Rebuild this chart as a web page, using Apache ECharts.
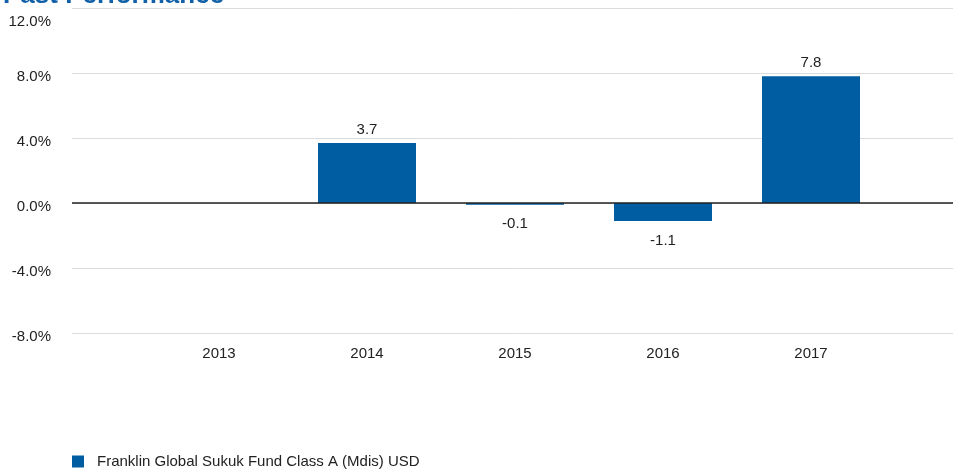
<!DOCTYPE html>
<html><head><meta charset="utf-8">
<script src="https://cdn.jsdelivr.net/npm/echarts@6/dist/echarts.min.js"></script>
<style>html,body{margin:0;padding:0;background:#fff}#c{width:953px;height:469px}</style>
</head><body><div id="c"></div>
<script>
const categories = ['2013', '2014', '2015', '2016', '2017'];
const fundValues = [null, 3.7, -0.1, -1.1, 7.8];
const seriesName = 'Franklin Global Sukuk Fund Class A (Mdis) USD';
const titleText = 'Past Performance';

const chart = echarts.init(document.getElementById('c'));
const font = '"Liberation Sans", Arial, sans-serif';
const barColor = '#005DA2';
const txt = '#222';
const fs = 15;
chart.setOption({
  animation: false,
  title: { text: titleText, left: -2, top: -22, textStyle: { color: '#1260A8', fontSize: 26, fontWeight: 'bold', fontFamily: font } },
  legend: {
    left: 72, bottom: 0, padding: 0, itemWidth: 12, itemHeight: 12, icon: 'rect', itemGap: 10,
    textStyle: { color: txt, fontSize: fs, fontFamily: font, padding: [0, 0, 0, 8] },
    data: [seriesName]
  },
  grid: [
    { left: 72, right: 0, top: 8, bottom: 136 },
    { left: 145, right: 68, top: 8, bottom: 136 }
  ],
  xAxis: [
    { gridIndex: 0, type: 'value', min: 0, max: 1, show: true, axisLabel: { show: false }, axisTick: { show: false }, splitLine: { show: false }, axisLine: { show: false } },
    { gridIndex: 1, type: 'category', data: categories, axisLine: { show: false }, axisTick: { show: false },
      axisLabel: { color: txt, fontSize: fs, fontFamily: font, margin: 13 } }
  ],
  yAxis: [
    { gridIndex: 0, type: 'value', min: -8, max: 12, interval: 4,
      axisLabel: {
        formatter: v => v === 12 ? '{top|' + v.toFixed(1) + '%}' : '{n|' + v.toFixed(1) + '%}',
        color: txt, fontSize: fs, fontFamily: font, margin: 21,
        rich: { top: { fontSize: fs, fontFamily: font, color: txt, padding: [28, 0, 0, 0] }, n: { fontSize: fs, fontFamily: font, color: txt, padding: [8, 0, 0, 0] } }
      },
      axisLine: { show: false }, axisTick: { show: false },
      splitLine: { lineStyle: { color: '#DCDCDC', width: 1 } } },
    { gridIndex: 1, type: 'value', min: -8, max: 12, interval: 4, show: false, splitLine: { show: false } }
  ],
  series: [
    { type: 'line', xAxisIndex: 0, yAxisIndex: 0, data: [], silent: true,
      markLine: { silent: true, symbol: 'none', label: { show: false }, lineStyle: { color: '#222', width: 1.5, type: 'solid' }, data: [{ yAxis: 0 }] } },
    { name: seriesName, type: 'bar', xAxisIndex: 1, yAxisIndex: 1, barWidth: 98,
      itemStyle: { color: barColor },
      data: fundValues.map(v => v === null ? '-' : {
        value: v,
        label: { show: true, position: v >= 0 ? 'top' : 'bottom', distance: v >= 0 ? 6 : 12 }
      }),
      label: { color: txt, fontSize: fs, fontFamily: font }
    }
  ]
});
</script></body></html>
